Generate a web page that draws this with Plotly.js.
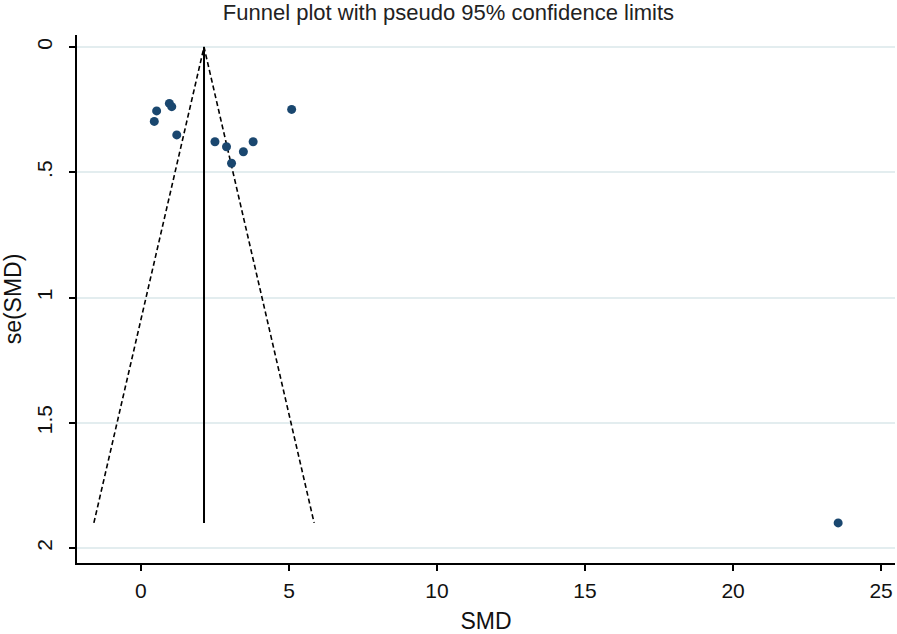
<!DOCTYPE html>
<html>
<head>
<meta charset="utf-8">
<script src="https://cdn.plot.ly/plotly-3.0.1.min.js"></script>
<style>html,body{margin:0;padding:0;background:#fff;}#chart{width:897px;height:634px;}</style>
</head>
<body>
<div id="chart"></div>
<script>
// Study effects (SMD) and their standard errors
const smd = [0.53, 0.45, 0.96, 1.04, 1.21, 5.09, 2.50, 2.89, 3.06, 3.46, 3.79, 23.55];
const seSmd = [0.255, 0.297, 0.225, 0.238, 0.351, 0.249, 0.378, 0.398, 0.464, 0.418, 0.378, 1.90];
// Pooled estimate line and pseudo 95% limits
const pooledX = [2.13, 2.13];
const pooledY = [0, 1.9];
const funnelX = [-1.59, 2.13, 5.85];
const funnelY = [1.9, 0, 1.9];
const yTickVals = [0, 0.5, 1, 1.5, 2];
const yTickText = ['0', '.5', '1', '1.5', '2'];
const xTickVals = [0, 5, 10, 15, 20, 25];

const font = 'Liberation Sans, Arial, sans-serif';

const traces = [
  {x: funnelX, y: funnelY, mode: 'lines', type: 'scatter',
   line: {color: '#000', width: 1.6, dash: '5px,3px'}, hoverinfo: 'skip', showlegend: false},
  {x: pooledX, y: pooledY, mode: 'lines', type: 'scatter',
   line: {color: '#000', width: 2}, hoverinfo: 'skip', showlegend: false},
  {x: smd, y: seSmd, mode: 'markers', type: 'scatter',
   marker: {color: '#1a476f', size: 9, symbol: 'circle'}, showlegend: false}
];

const layout = {
  width: 897, height: 634,
  paper_bgcolor: '#fff', plot_bgcolor: '#fff',
  margin: {l: 77, r: 2, t: 35, b: 71},
  title: {text: 'Funnel plot with pseudo 95% confidence limits',
          font: {family: font, size: 22, color: '#222'},
          x: 0.5, xanchor: 'center', y: 0.992, yanchor: 'top'},
  xaxis: {
    range: [-2.16, 25.47], tickvals: xTickVals,
    showline: true, linecolor: '#000', linewidth: 2,
    ticks: 'outside', ticklen: 6, tickwidth: 2, tickcolor: '#000',
    showgrid: false, zeroline: false, ticklabelstandoff: 2,
    tickfont: {family: font, size: 21, color: '#111'},
    title: {text: 'SMD', font: {family: font, size: 23, color: '#111'}, standoff: 14}
  },
  yaxis: {
    range: [2.06, -0.048], tickvals: yTickVals, ticktext: yTickText, tickangle: -90,
    showline: true, linecolor: '#000', linewidth: 2,
    ticks: 'outside', ticklen: 6, tickwidth: 2, tickcolor: '#000',
    showgrid: true, gridcolor: '#e3edef', gridwidth: 2, zeroline: false,
    ticklabelstandoff: 9,
    tickfont: {family: font, size: 21, color: '#111'},
    title: {text: 'se(SMD)', font: {family: font, size: 23, color: '#111'}, standoff: 6}
  }
};

Plotly.newPlot('chart', traces, layout, {displayModeBar: false, staticPlot: true});
</script>
</body>
</html>
